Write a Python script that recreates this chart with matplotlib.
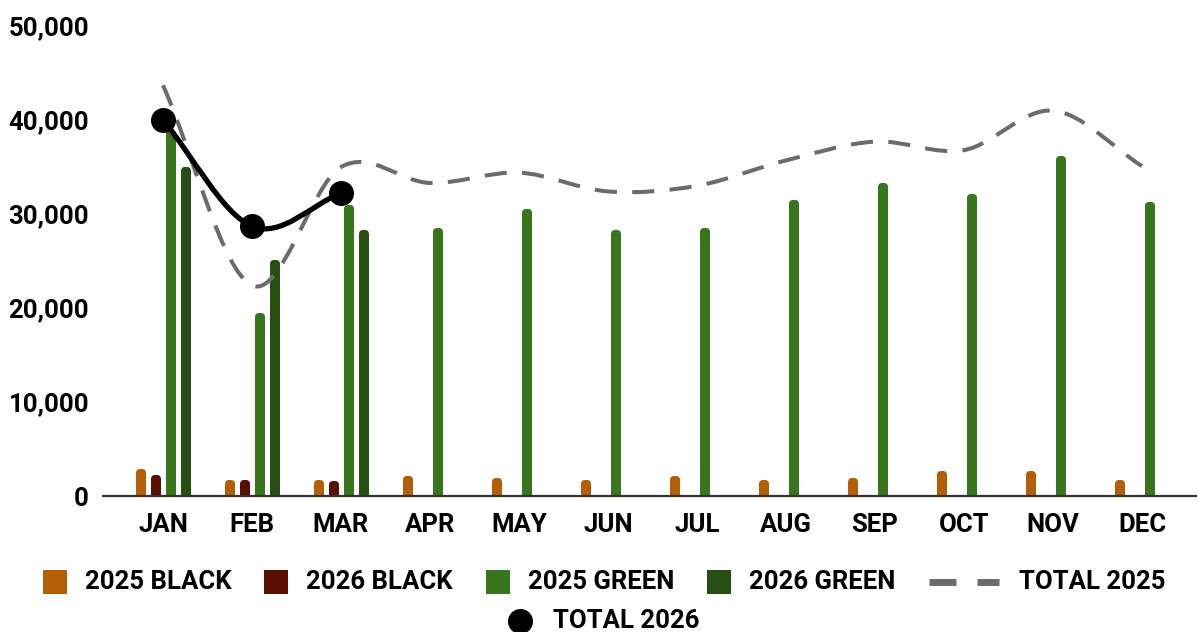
import matplotlib
matplotlib.use("Agg")
import matplotlib.pyplot as plt
import numpy as np
from matplotlib.path import Path
from matplotlib.patches import PathPatch, Rectangle
from matplotlib.transforms import ScaledTranslation

months = ["JAN", "FEB", "MAR", "APR", "MAY", "JUN",
          "JUL", "AUG", "SEP", "OCT", "NOV", "DEC"]
black_2025 = [2900, 1800, 1800, 2200, 2000, 1800, 2200, 1800, 2000, 2700, 2700, 1800]
black_2026 = [2300, 1800, 1600]
green_2025 = [39000, 19500, 31000, 28600, 30600, 28400, 28600, 31500, 33300, 32200, 36200, 31300]
green_2026 = [35100, 25200, 28400]
total_2025 = [43700, 22400, 35000, 33300, 34400, 32400, 33000, 35700, 37700, 36800, 41000, 35100]
total_2026 = [40000, 28700, 32200]

bar_series = [
    ("2025 BLACK", black_2025, "#b45f06"),
    ("2026 BLACK", black_2026, "#5b0f00"),
    ("2025 GREEN", green_2025, "#38761d"),
    ("2026 GREEN", green_2026, "#274e13"),
]
c_total25 = "#6b6b6b"
c_total26 = "#000000"

plt.rcParams["font.family"] = ["Roboto", "DejaVu Sans"]
plt.rcParams["font.weight"] = "bold"
FS = 18.5

W, H = 1198, 632
fig = plt.figure(figsize=(W / 100, H / 100), dpi=100)
ax = fig.add_axes([103 / W, 1 - 496 / H, (1196 - 103) / W, (496 - 26) / H])

ax.set_xlim(-0.674, 11.607)
ax.set_ylim(0, 50000)


def smooth_path(xs, ys):
    """Cubic bezier through the points (catmull-rom style tangents)."""
    pts = np.column_stack([xs, ys]).astype(float)
    n = len(pts)
    tang = np.zeros_like(pts)
    for i in range(n):
        a = pts[max(i - 1, 0)]
        b = pts[min(i + 1, n - 1)]
        tang[i] = (b - a) / (2 if 0 < i < n - 1 else 1)
    verts = [pts[0]]
    codes = [Path.MOVETO]
    for i in range(n - 1):
        verts += [pts[i] + tang[i] / 3, pts[i + 1] - tang[i + 1] / 3, pts[i + 1]]
        codes += [Path.CURVE4] * 3
    return Path(verts, codes)


# bars: thin rect + thick round-joined edge -> rounded tops
edge_px = 7
shift = ScaledTranslation(0, -edge_px / 2 / 100, fig.dpi_scale_trans)
step = 0.168
for i, (label, vals, color) in enumerate(bar_series):
    x = np.arange(len(vals)) + (i - 1.5) * step
    bars = ax.bar(x, vals, width=0.036, color=color, edgecolor=color,
                  linewidth=edge_px * 0.72, zorder=2)
    for b in bars:
        b.set_joinstyle("round")
        b.set_transform(ax.transData + shift)

# total 2025, dashed smooth line
p25 = PathPatch(smooth_path(np.arange(len(total_2025)), total_2025), fill=False,
                edgecolor=c_total25, lw=2.9, linestyle=(0, (5.5, 3.8)),
                capstyle="butt", zorder=3, clip_on=False)
ax.add_patch(p25)

# total 2026, solid smooth line with markers
p26 = PathPatch(smooth_path(np.arange(len(total_2026)), total_2026), fill=False,
                edgecolor=c_total26, lw=3.8, zorder=4, clip_on=False)
ax.add_patch(p26)
ax.plot(np.arange(len(total_2026)), total_2026, "o", color=c_total26, ms=17,
        zorder=5, clip_on=False)

for s in ["top", "right", "left"]:
    ax.spines[s].set_visible(False)
ax.spines["bottom"].set_color("#333333")
ax.spines["bottom"].set_linewidth(1.6)
ax.spines["bottom"].set_zorder(6)

ax.set_xticks(range(len(months)))
ax.set_xticklabels(months)
ax.set_yticks(range(0, 50001, 10000))
ax.set_yticklabels([f"{v:,}" for v in range(0, 50001, 10000)])
ax.tick_params(axis="x", length=0, pad=12, labelsize=FS)
ax.tick_params(axis="y", length=0, pad=10, labelsize=FS)

# legend drawn in pixel space
lax = fig.add_axes([0, 0, 1, 1], zorder=10)
lax.set_xlim(0, W)
lax.set_ylim(H, 0)
lax.axis("off")

rows = [
    [("sq", c, lbl) for lbl, _, c in bar_series] + [("dash", c_total25, "TOTAL 2025")],
    [("dot", c_total26, "TOTAL 2026")],
]
row_y = [582, 621]
handle_w = {"sq": 24, "dash": 70, "dot": 24}
handle_gap = {"sq": 18, "dash": 20, "dot": 21}
item_gap = 33
center_x = 604

renderer = fig.canvas.get_renderer()
for row, y in zip(rows, row_y):
    texts = []
    for kind, color, lbl in row:
        t = lax.text(0, y, lbl, fontsize=FS, fontweight="bold", va="center", ha="left")
        texts.append(t)
    widths = [t.get_window_extent(renderer).width for t in texts]
    total = sum(handle_w[k] + handle_gap[k] for k, _, _ in row) + sum(widths) \
        + item_gap * (len(row) - 1)
    x = center_x - total / 2
    for (kind, color, lbl), t, w in zip(row, texts, widths):
        hw = handle_w[kind]
        if kind == "sq":
            lax.add_patch(Rectangle((x, y - 12), hw, 24, color=color, lw=0))
        elif kind == "dash":
            lax.plot([x, x + hw], [y, y], color=color, lw=5,
                     linestyle=(0, (27 / 6.94, 21 / 6.94)), dash_capstyle="butt")
        else:
            lax.plot([x + hw / 2], [y], "o", color=color, ms=17)
        t.set_x(x + hw + handle_gap[kind])
        x += hw + handle_gap[kind] + w + item_gap

fig.savefig("out.png", dpi=100)
